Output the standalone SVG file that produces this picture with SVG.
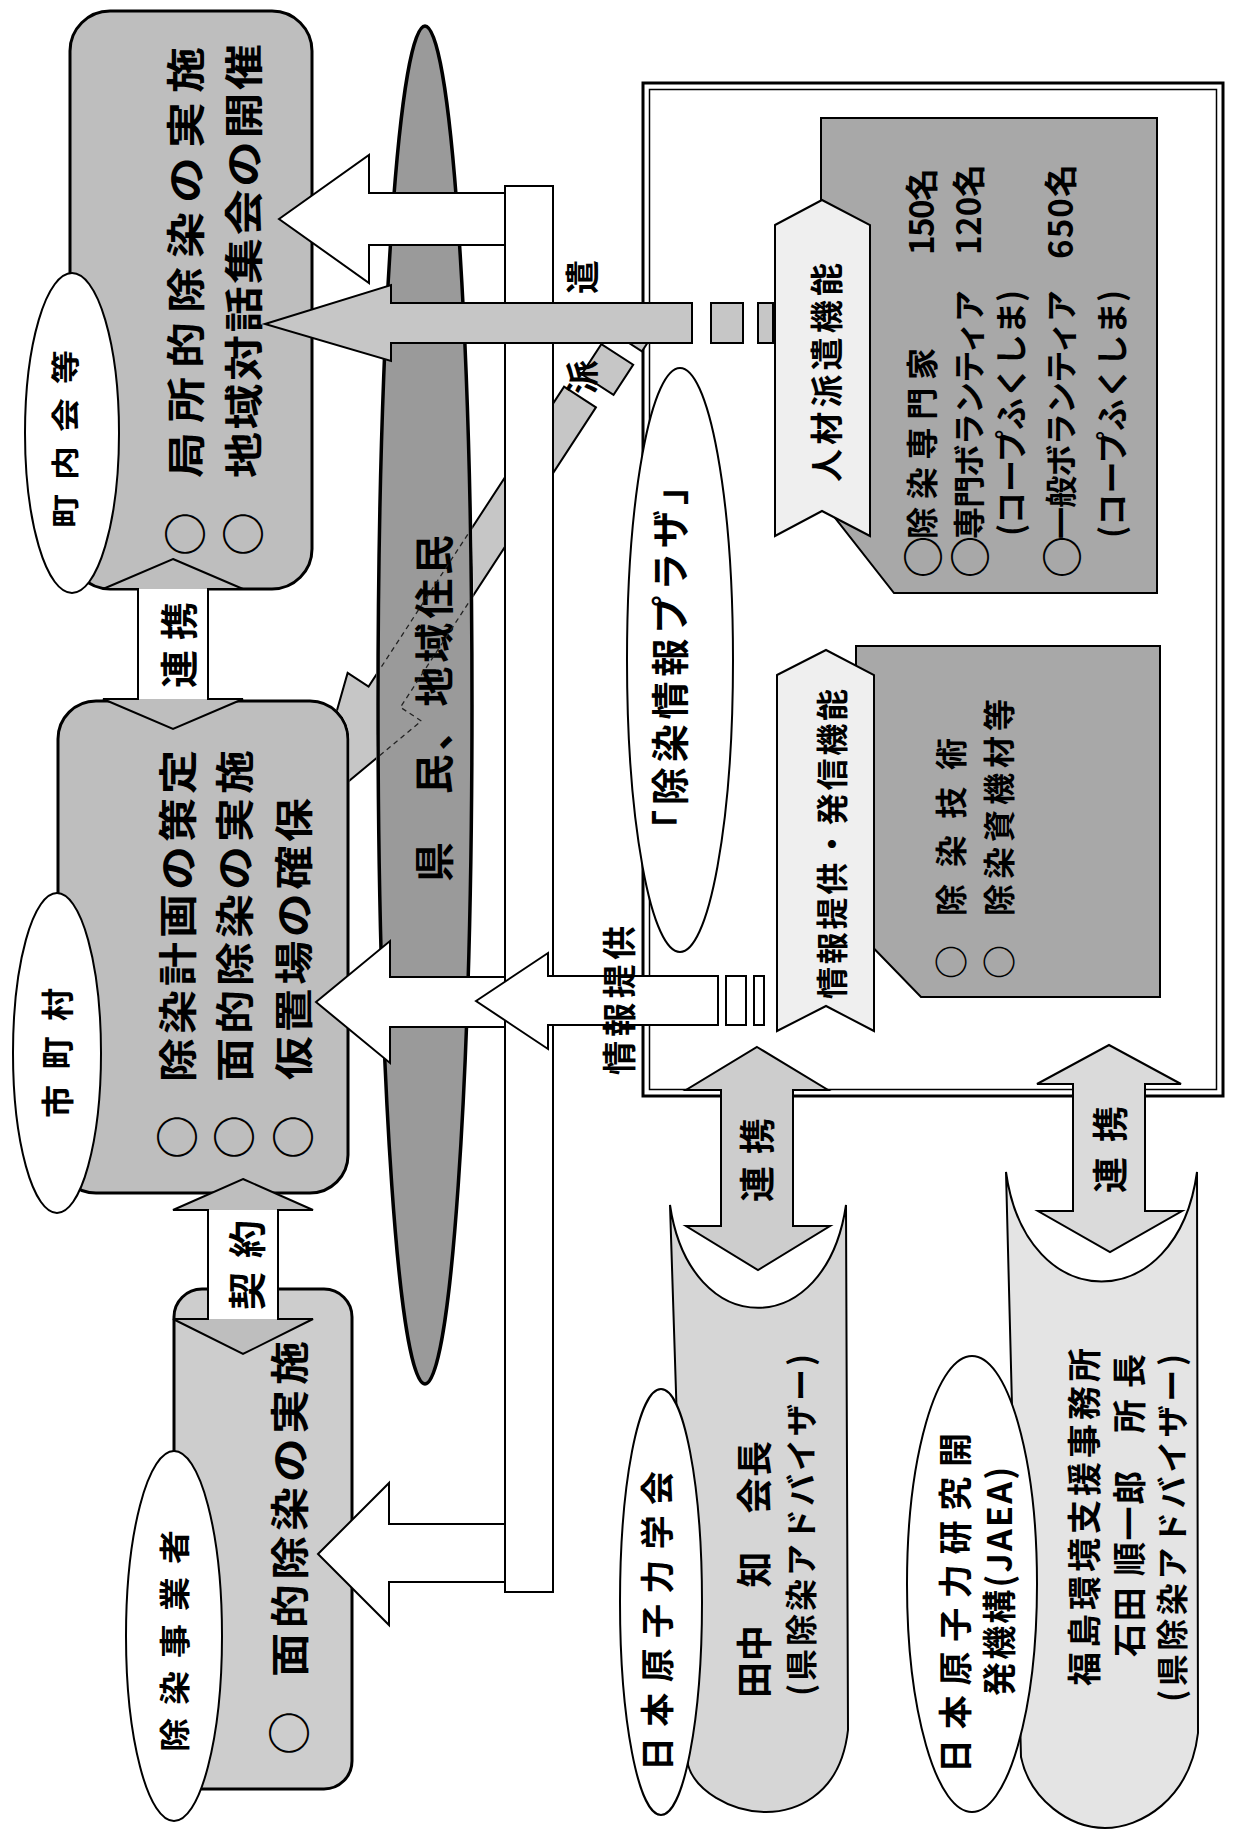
<svg xmlns="http://www.w3.org/2000/svg" width="1237" height="1839" viewBox="0 0 1237 1839">
<style>
.t{font-family:"Noto Sans CJK JP","Noto Sans CJK SC",sans-serif;font-weight:700;dominant-baseline:central;fill:#000}
.c{font-family:"Noto Sans CJK JP","Noto Sans CJK SC",sans-serif;font-weight:700;dominant-baseline:central;text-anchor:middle;fill:#000}
.box{fill:#bebebe;stroke:#000;stroke-width:3}
.ell{fill:#fff;stroke:#000;stroke-width:2}
.warr{fill:#fff;stroke:#000;stroke-width:2}
.garr{fill:#c6c6c6;stroke:#000;stroke-width:2}
.panel{fill:#a8a8a8;stroke:#000;stroke-width:2}
.chev{fill:#efefef;stroke:#000;stroke-width:2}
.head{fill:#bebebe;stroke:none}
.out{fill:none;stroke:#000;stroke-width:2}
</style>
<defs>
<mask id="mDiag" maskUnits="userSpaceOnUse" x="0" y="0" width="1237" height="1839">
<rect width="1237" height="1839" fill="#fff"/>
<ellipse cx="425" cy="705" rx="49" ry="681" fill="#000"/>
<rect x="56.5" y="699.5" width="293" height="495" rx="39.5" fill="#000"/>
</mask>
<clipPath id="cEll"><ellipse cx="425" cy="705" rx="45.5" ry="677"/></clipPath>
</defs>
<rect width="1237" height="1839" fill="#fff"/>

<g id="nodes">
<g id="plaza">
<rect x="643" y="83" width="580" height="1013" fill="#fff" stroke="#000" stroke-width="3"/>
<rect x="649.5" y="89.5" width="567" height="1000" fill="none" stroke="#000" stroke-width="1.5"/>
<ellipse cx="680" cy="660" rx="53" ry="292" class="ell"/>
<text class="t" font-size="38" textLength="381" transform="translate(667,848) rotate(-90)">「除染情報プラザ」</text>
</g>

<g id="jinzai">
<polygon class="panel" points="821,118 1157,118 1157,593 894,593 821,500"/>
<polygon class="chev" points="775,225 822,200 870,225 870,536 822,511 775,536"/>
<text class="t" font-size="33" textLength="219" transform="translate(825,482) rotate(-90)">人材派遣機能</text>
<text class="c" font-size="42" transform="translate(920,557) rotate(-90)">○</text>
<text class="t" font-size="32" textLength="191" transform="translate(920,539) rotate(-90)">除染専門家</text>
<text class="t" font-size="33" textLength="87" transform="translate(920,255) rotate(-90)">150名</text>
<text class="c" font-size="42" transform="translate(967,557) rotate(-90)">○</text>
<text class="t" font-size="32" textLength="249" transform="translate(967,539) rotate(-90)">専門ボランティア</text>
<text class="t" font-size="33" textLength="91" transform="translate(967,255) rotate(-90)">120名</text>
<text class="t" font-size="32" textLength="246" transform="translate(1009,536) rotate(-90)">(コープふくしま)</text>
<text class="c" font-size="42" transform="translate(1059,557) rotate(-90)">○</text>
<text class="t" font-size="32" textLength="249" transform="translate(1059,539) rotate(-90)">一般ボランティア</text>
<text class="t" font-size="33" textLength="95" transform="translate(1059,259) rotate(-90)">650名</text>
<text class="t" font-size="32" textLength="248" transform="translate(1110,538) rotate(-90)">(コープふくしま)</text>
</g>

<g id="joho">
<polygon class="panel" points="856,646 1160,646 1160,997 921,997 856,930"/>
<polygon class="chev" points="777,675 826,650 874,675 874,1031 826,1006 777,1031"/>
<text class="t" font-size="32" textLength="310" transform="translate(830,999) rotate(-90)">情報提供・発信機能</text>
<text class="c" font-size="34" transform="translate(949,962) rotate(-90)">○</text>
<text class="t" font-size="32" textLength="178" transform="translate(949,916) rotate(-90)">除染技術</text>
<text class="c" font-size="34" transform="translate(997,962) rotate(-90)">○</text>
<text class="t" font-size="32" textLength="217" transform="translate(997,916) rotate(-90)">除染資機材等</text>
</g>

<g id="kenmin">
<ellipse cx="425" cy="705" rx="47" ry="679" fill="#9a9a9a" stroke="#000" stroke-width="3.5"/>
<text class="t" font-size="40" textLength="347" transform="translate(432,882) rotate(-90)">県　民、地域住民</text>
</g>

<g id="chonaikai">
<rect class="box" x="70" y="11" width="242" height="578" rx="40"/>
<ellipse class="ell" cx="72" cy="433" rx="47" ry="160"/>
<text class="t" font-size="34" textLength="178" transform="translate(63,528) rotate(-90) scale(1,0.85)">町内会等</text>
<text class="c" font-size="44" transform="translate(183,534) rotate(-90)">○</text>
<text class="c" font-size="44" transform="translate(241,534) rotate(-90)">○</text>
<text class="t" font-size="46" textLength="431" transform="translate(183,478) rotate(-90) scale(1,0.85)">局所的除染の実施</text>
<text class="t" font-size="46" textLength="434" transform="translate(241,478) rotate(-90) scale(1,0.85)">地域対話集会の開催</text>
</g>

<g id="shichoson">
<rect class="box" x="58" y="701" width="290" height="492" rx="38"/>
<ellipse class="ell" cx="57" cy="1053" rx="44" ry="160"/>
<text class="t" font-size="33" textLength="130" transform="translate(56,1118) rotate(-90)">市町村</text>
<text class="c" font-size="44" transform="translate(175,1137) rotate(-90)">○</text>
<text class="c" font-size="44" transform="translate(232,1137) rotate(-90)">○</text>
<text class="c" font-size="44" transform="translate(291,1137) rotate(-90)">○</text>
<text class="t" font-size="44" textLength="332" transform="translate(175,1082) rotate(-90) scale(1,0.88)">除染計画の策定</text>
<text class="t" font-size="44" textLength="332" transform="translate(232,1082) rotate(-90) scale(1,0.88)">面的除染の実施</text>
<text class="t" font-size="44" textLength="282" transform="translate(291,1080) rotate(-90) scale(1,0.88)">仮置場の確保</text>
</g>

<g id="jigyosha">
<rect x="174" y="1289" width="178" height="500" rx="28" fill="#cdcdcd" stroke="#000" stroke-width="3"/>
<ellipse class="ell" cx="174" cy="1636" rx="48" ry="185"/>
<text class="t" font-size="34" textLength="222" transform="translate(172,1752) rotate(-90) scale(1,0.9)">除染事業者</text>
<text class="c" font-size="44" transform="translate(287,1733) rotate(-90)">○</text>
<text class="t" font-size="44" textLength="336" transform="translate(287,1677) rotate(-90) scale(1,0.88)">面的除染の実施</text>
</g>

<g id="gakkai">
<path d="M670,1205 C690,1342 826,1342 846,1205 L848,1730 C840,1800 790,1812 766,1812 C730,1812 695,1790 688,1765 Z" fill="#d6d6d6" stroke="#000" stroke-width="2"/>
<ellipse class="ell" cx="661" cy="1602" rx="41" ry="213"/>
<text class="t" font-size="34" textLength="300" transform="translate(655,1771) rotate(-90)">日本原子力学会</text>
<text class="t" font-size="36" textLength="257" transform="translate(752,1698) rotate(-90)">田中　知　会長</text>
<text class="t" font-size="32" textLength="342" transform="translate(799,1696) rotate(-90)">(県除染アドバイザー)</text>
</g>

<g id="jaea">
<path d="M1006,1172 C1026,1318 1177,1318 1197,1172 L1198,1733 C1190,1800 1140,1828 1105,1828 C1070,1828 1030,1800 1021,1757 Z" fill="#e4e4e4" stroke="#000" stroke-width="2"/>
<ellipse class="ell" cx="972" cy="1584" rx="65" ry="228"/>
<text class="t" font-size="34" textLength="340" transform="translate(953,1773) rotate(-90)">日本原子力研究開</text>
<text class="t" font-size="34" textLength="229" transform="translate(997,1696) rotate(-90)">発機構(JAEA)</text>
<text class="t" font-size="34" textLength="338" transform="translate(1082,1686) rotate(-90)">福島環境支援事務所</text>
<text class="t" font-size="34" textLength="303" transform="translate(1127,1657) rotate(-90)">石田 順一郎　所 長</text>
<text class="t" font-size="32" textLength="348" transform="translate(1170,1702) rotate(-90)">(県除染アドバイザー)</text>
</g>
</g>

<g id="connectors">
<g mask="url(#mDiag)">
<g transform="translate(580,397) rotate(123.1)">
<polygon class="garr" points="0,-19 358,-19 358,-44 500,0 358,44 358,19 0,19"/>
<rect class="garr" x="-56" y="-27" width="36" height="38"/>
<rect class="garr" x="-90" y="-27" width="18" height="38"/>
</g>
</g>
<g clip-path="url(#cEll)">
<polygon transform="translate(580,397) rotate(123.1)" points="0,-19 358,-19 358,-44 500,0 358,44 358,19 0,19" fill="none" stroke="#222" stroke-width="1.3" stroke-dasharray="5 4"/>
</g>

<polygon class="head" points="173,559 243,589 103,589"/>
<polygon class="head" points="103,699 243,699 173,729"/>
<rect x="138" y="589" width="70" height="110" fill="#fff"/>
<polygon class="out" points="173,559 243,589 208,589 208,699 243,699 173,729 103,699 138,699 138,589 103,589"/>

<polygon class="head" points="243,1179 313,1210 173,1210"/>
<polygon class="head" points="173,1319 313,1319 243,1354"/>
<rect x="208" y="1210" width="70" height="109" fill="#fff"/>
<polygon class="out" points="243,1179 313,1210 278,1210 278,1319 313,1319 243,1354 173,1319 208,1319 208,1210 173,1210"/>

<polygon class="warr" points="279,219 369,155 369,193 530,193 530,245 369,245 369,283"/>
<polygon class="warr" points="316,1002 390,941 390,977 530,977 530,1027 390,1027 390,1063"/>
<polygon class="warr" points="318,1554 389,1483 389,1524 530,1524 530,1582 389,1582 389,1625"/>
<rect class="warr" x="505" y="186" width="48" height="1406"/>

<polygon class="warr" points="476,1001 548,953 548,976 718,976 718,1025 548,1025 548,1049"/>
<rect class="warr" x="726" y="976" width="20" height="49"/>
<rect class="warr" x="754" y="976" width="10" height="49"/>

<polygon class="garr" points="265,324 391,285 391,303 692,303 692,343 391,343 391,361"/>
<rect class="garr" x="711" y="303" width="32" height="40"/>
<rect class="garr" x="758" y="303" width="15" height="40"/>

<polygon points="757,1047 828,1090 793,1090 793,1226 830,1226 758,1270 686,1226 721,1226 721,1090 686,1090" fill="#cdcdcd" stroke="#000" stroke-width="2"/>
<polygon points="1109,1045 1181,1084 1145,1084 1145,1211 1182,1211 1110,1252 1038,1211 1073,1211 1073,1084 1037,1084" fill="#dadada" stroke="#000" stroke-width="2"/>

<text class="t" font-size="38" textLength="86" transform="translate(176,688) rotate(-90)">連携</text>
<text class="t" font-size="38" textLength="90" transform="translate(244,1310) rotate(-90)">契約</text>
<text class="t" font-size="34" textLength="134" transform="translate(580,394) rotate(-90)">派　遣</text>
<text class="t" font-size="34" textLength="149" transform="translate(617,1075) rotate(-90)">情報提供</text>
<text class="t" font-size="36" textLength="84" transform="translate(755,1202) rotate(-90)">連携</text>
<text class="t" font-size="36" textLength="87" transform="translate(1108,1193) rotate(-90)">連携</text>
</g>
</svg>
